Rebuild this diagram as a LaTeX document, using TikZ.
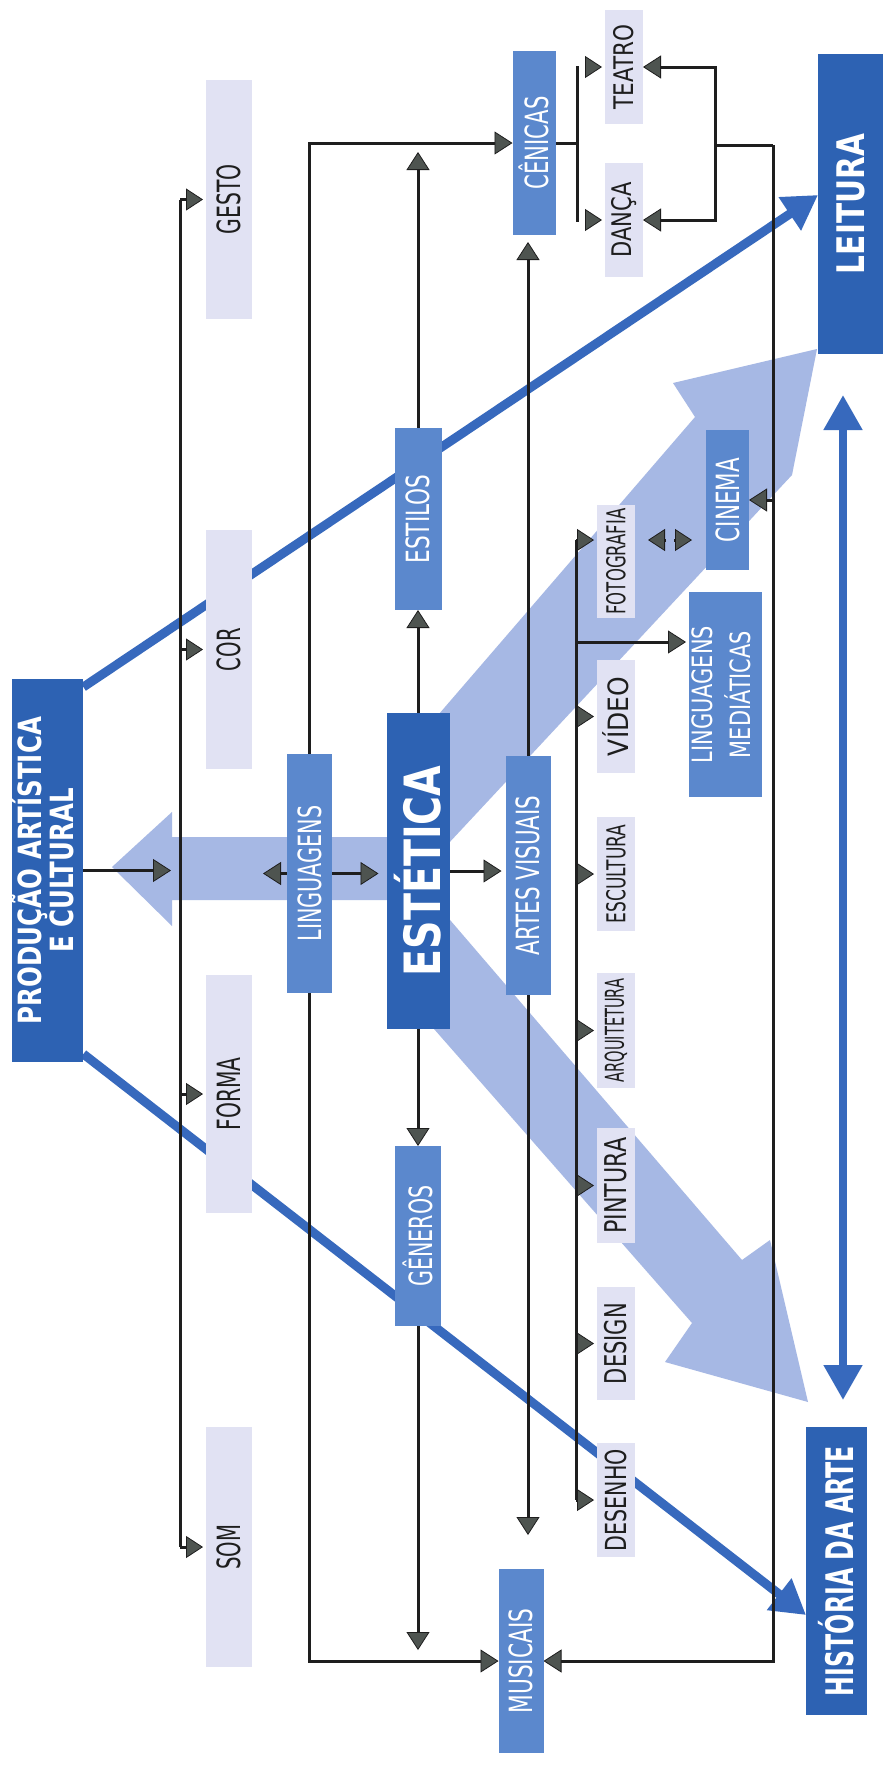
\documentclass[tikz,border=0pt]{standalone}
\usepackage{fontspec}
\setmainfont{DejaVu Sans}
\usepackage{graphicx}
\usetikzlibrary{arrows.meta}
\pgfdeclarelayer{bg}\pgfdeclarelayer{mid}\pgfsetlayers{bg,mid,main}
\definecolor{dk}{HTML}{2D62B3}
\definecolor{md}{HTML}{5B88CD}
\definecolor{pl}{HTML}{E1E2F3}
\definecolor{bd}{HTML}{A6B8E4}
\definecolor{bln}{HTML}{3769BD}
\definecolor{mkc}{HTML}{4E5450}
\definecolor{lnc}{HTML}{1E1E1E}
\definecolor{txt}{HTML}{1E1E1E}
\newsavebox\tbox
\newcommand{\fitt}[3]{\sbox\tbox{\fontsize{#2}{#2}\selectfont #3}\rotatebox{90}{\resizebox{#1}{\ht\tbox}{\usebox\tbox}}}
\newcommand{\twol}[3]{\begin{tabular}{@{}c@{}}#1\\[#3]#2\end{tabular}}
\begin{document}
\begin{tikzpicture}[x=1pt,y=-1pt,
  box/.style={rectangle, inner sep=0pt, outer sep=0pt},
  dkbox/.style={box, fill=dk, text=white},
  mdbox/.style={box, fill=md, text=white},
  plbox/.style={box, fill=pl, text=txt},
  ln/.style={draw=lnc, line width=3pt},
  arr/.style={draw=lnc, line width=3pt, -{Triangle[length=18pt,width=23pt,fill=mkc,line width=0.8pt]}},
  mkr/.style={draw=lnc, line width=3pt, -{Triangle[length=17pt,width=22pt,fill=mkc,line width=0.8pt]}, shorten >=3pt},
  bl/.style={draw=bln, line width=9pt, -{Triangle[length=34pt,width=38pt]}},
  blv/.style={draw=bln, line width=8pt, {Triangle[length=35pt,width=37pt]}-{Triangle[length=35pt,width=37pt]}},
  band/.style={fill=bd}]
\useasboundingbox (0,0) rectangle (889,1765);
% ---------- nodes ----------
\node[dkbox, minimum width=67pt, minimum height=383pt] (prod) at (47.5,870.5) {\fitt{307pt}{32pt}{\bfseries\twol{PRODUÇÃO ARTÍSTICA}{E CULTURAL}{-1pt}}};
\node[dkbox, minimum width=63pt, minimum height=316pt] (est) at (418,871) {\fitt{211pt}{50pt}{\bfseries ESTÉTICA}};
\node[dkbox, minimum width=65pt, minimum height=300pt] (leit) at (850.5,204) {\fitt{140pt}{38pt}{\bfseries LEITURA}};
\node[dkbox, minimum width=61pt, minimum height=288pt] (hist) at (836.5,1571) {\fitt{250pt}{38pt}{\bfseries HISTÓRIA DA ARTE}};
\node[mdbox, minimum width=43pt, minimum height=184pt] (cen) at (534,143) {\fitt{93pt}{32pt}{CÊNICAS}};
\node[mdbox, minimum width=47pt, minimum height=182pt] (estilos) at (418,519) {\fitt{89pt}{32pt}{ESTILOS}};
\node[mdbox, minimum width=45pt, minimum height=239pt] (ling) at (309.5,873.5) {\fitt{136pt}{32pt}{LINGUAGENS}};
\node[mdbox, minimum width=45pt, minimum height=239pt] (av) at (528,875.5) {\fitt{160pt}{32pt}{ARTES VISUAIS}};
\node[mdbox, minimum width=46pt, minimum height=180pt] (gen) at (418,1236) {\fitt{101pt}{32pt}{GÊNEROS}};
\node[mdbox, minimum width=45pt, minimum height=184pt] (mus) at (521,1661) {\fitt{105pt}{32pt}{MUSICAIS}};
\node[mdbox, minimum width=43pt, minimum height=140pt] (cin) at (727.5,500) {\fitt{84pt}{32pt}{CINEMA}};
\node[mdbox, minimum width=73pt, minimum height=205pt] (lm) at (725.5,694.5) {\fitt{137pt}{28pt}{\twol{LINGUAGENS}{MEDIÁTICAS}{4pt}}};
\node[plbox, minimum width=46pt, minimum height=239pt] (gesto) at (229,199.5) {\fitt{70pt}{32pt}{GESTO}};
\node[plbox, minimum width=46pt, minimum height=239pt] (cor) at (229,649.5) {\fitt{43pt}{32pt}{COR}};
\node[plbox, minimum width=46pt, minimum height=238pt] (forma) at (229,1094) {\fitt{73pt}{32pt}{FORMA}};
\node[plbox, minimum width=46pt, minimum height=240pt] (som) at (229,1547) {\fitt{45pt}{32pt}{SOM}};
\node[plbox, minimum width=38pt, minimum height=114pt] (teatro) at (624,67) {\fitt{85pt}{27pt}{TEATRO}};
\node[plbox, minimum width=38pt, minimum height=114pt] (danca) at (624,220) {\fitt{75pt}{27pt}{DANÇA}};
\node[plbox, minimum width=38pt, minimum height=113pt] (foto) at (616,561.5) {\fitt{106pt}{26pt}{FOTOGRAFIA}};
\node[plbox, minimum width=38pt, minimum height=113pt] (video) at (616,716.5) {\fitt{79pt}{28pt}{VÍDEO}};
\node[plbox, minimum width=38pt, minimum height=114pt] (escult) at (616,874) {\fitt{99pt}{26pt}{ESCULTURA}};
\node[plbox, minimum width=38pt, minimum height=115pt] (arq) at (616,1030.5) {\fitt{104pt}{26pt}{ARQUITETURA}};
\node[plbox, minimum width=38pt, minimum height=115pt] (pint) at (616,1185.5) {\fitt{96pt}{30pt}{PINTURA}};
\node[plbox, minimum width=38pt, minimum height=113pt] (design) at (616,1343.5) {\fitt{81pt}{30pt}{DESIGN}};
\node[plbox, minimum width=38pt, minimum height=114pt] (desenho) at (616,1500) {\fitt{102pt}{29pt}{DESENHO}};
% ---------- coordinates ----------
\coordinate (lbr) at (180,0);
\coordinate (cbrT) at (577,66);
\coordinate (cbrB) at (577,222);
\coordinate (abT) at (576,540);
\coordinate (abB) at (576,1500);
\coordinate (abM) at (576,642);
\coordinate (rT) at (773,145);
\coordinate (rB) at (773,1661);
\coordinate (tdx) at (715,0);
\coordinate (stend) at (418,152);
\coordinate (gend) at (418,1650);
\coordinate (avend) at (528,1535);
\coordinate (lingL) at (263,873.5);
\coordinate (fcA) at (666,540);
\coordinate (fcB) at (674,540);
\coordinate (vx) at (843,0);
% ---------- background bands ----------
\begin{pgfonlayer}{bg}
\fill[white] (0,0) rectangle (889,1765);
\fill[band] (420,736) -- (695,417) -- (673,383) -- (817,349) -- (792,475) -- (420,874) -- cycle;
\fill[band] (420,885) -- (742,1260) -- (770,1240) -- (808,1402) -- (665,1362) -- (692,1323) -- (420,1013) -- cycle;
\fill[band] (420,837) -- (172,837) -- (172,812) -- (112,867) -- (172,926) -- (172,900) -- (420,900) -- cycle;
\end{pgfonlayer}
% ---------- connectors ----------
\begin{pgfonlayer}{mid}
\draw[bl] ([yshift=-8pt]prod.north east) -- ([yshift=9pt]leit.west);
\draw[bl] ([yshift=8pt]prod.south east) -- ([yshift=-44pt]hist.west);
\draw[blv, shorten <=41pt, shorten >=27pt] (leit.south -| vx) -- (hist.north -| vx);
% left bracket
\draw[ln] (gesto.west -| lbr) -- (som.west -| lbr);
\foreach \n in {gesto,cor,forma,som} \draw[mkr] (\n.west -| lbr) -- (\n.west);
\draw[arr, shorten >=9pt] (prod.east) -- (prod.east -| lbr);
% linguagens
\draw[arr] (ling.north) |- (cen.west);
\draw[arr] (ling.south) |- (mus.west);
\draw[arr] (ling.west) -- (lingL);
\draw[arr, shorten >=8pt] (ling.east) -- (ling.east -| est.west);
% estetica
\draw[arr, shorten >=4pt] (est.east) -- (est.east -| av.west);
\draw[arr] (est.north) -- (estilos.south);
\draw[arr] (est.south) -- (gen.north);
\draw[arr] (estilos.north) -- (stend);
\draw[arr] (gen.south) -- (gend);
% artes visuais
\draw[arr, shorten >=7pt] (av.north) -- (av.north |- cen.south);
\draw[arr] (av.south) -- (avend);
% cenicas bracket
\draw[ln] (cbrT) -- (cbrB);
\draw[ln] (cen.east) -- (cen.east -| cbrT);
\draw[mkr, shorten <=9pt] (teatro.west -| cbrT) -- (teatro.west);
\draw[mkr, shorten <=9pt] (danca.west -| cbrT) -- (danca.west);
% right line
\draw[arr] (rT) -- (rB) -- (mus.east);
\draw[arr] (rT) -- (tdx |- rT) |- (danca.east);
\draw[arr] (tdx |- rT) |- (teatro.east);
\draw[arr] (cin.east -| rT) -- (cin.east);
% artes visuais bracket
\draw[ln] (abT) -- (abB);
\draw[mkr] (abT) -- (abT -| foto.west);
\foreach \n in {video,escult,arq,pint,design,desenho} \draw[mkr] (\n.west -| abT) -- (\n.west);
\draw[arr, shorten >=3pt] (abM) -- (abM -| lm.west);
\draw[mkr, shorten >=13pt] (fcA) -- (fcA -| foto.east);
\draw[mkr, shorten >=14pt] (fcB) -- (fcB -| cin.west);
\end{pgfonlayer}
\end{tikzpicture}
\end{document}
